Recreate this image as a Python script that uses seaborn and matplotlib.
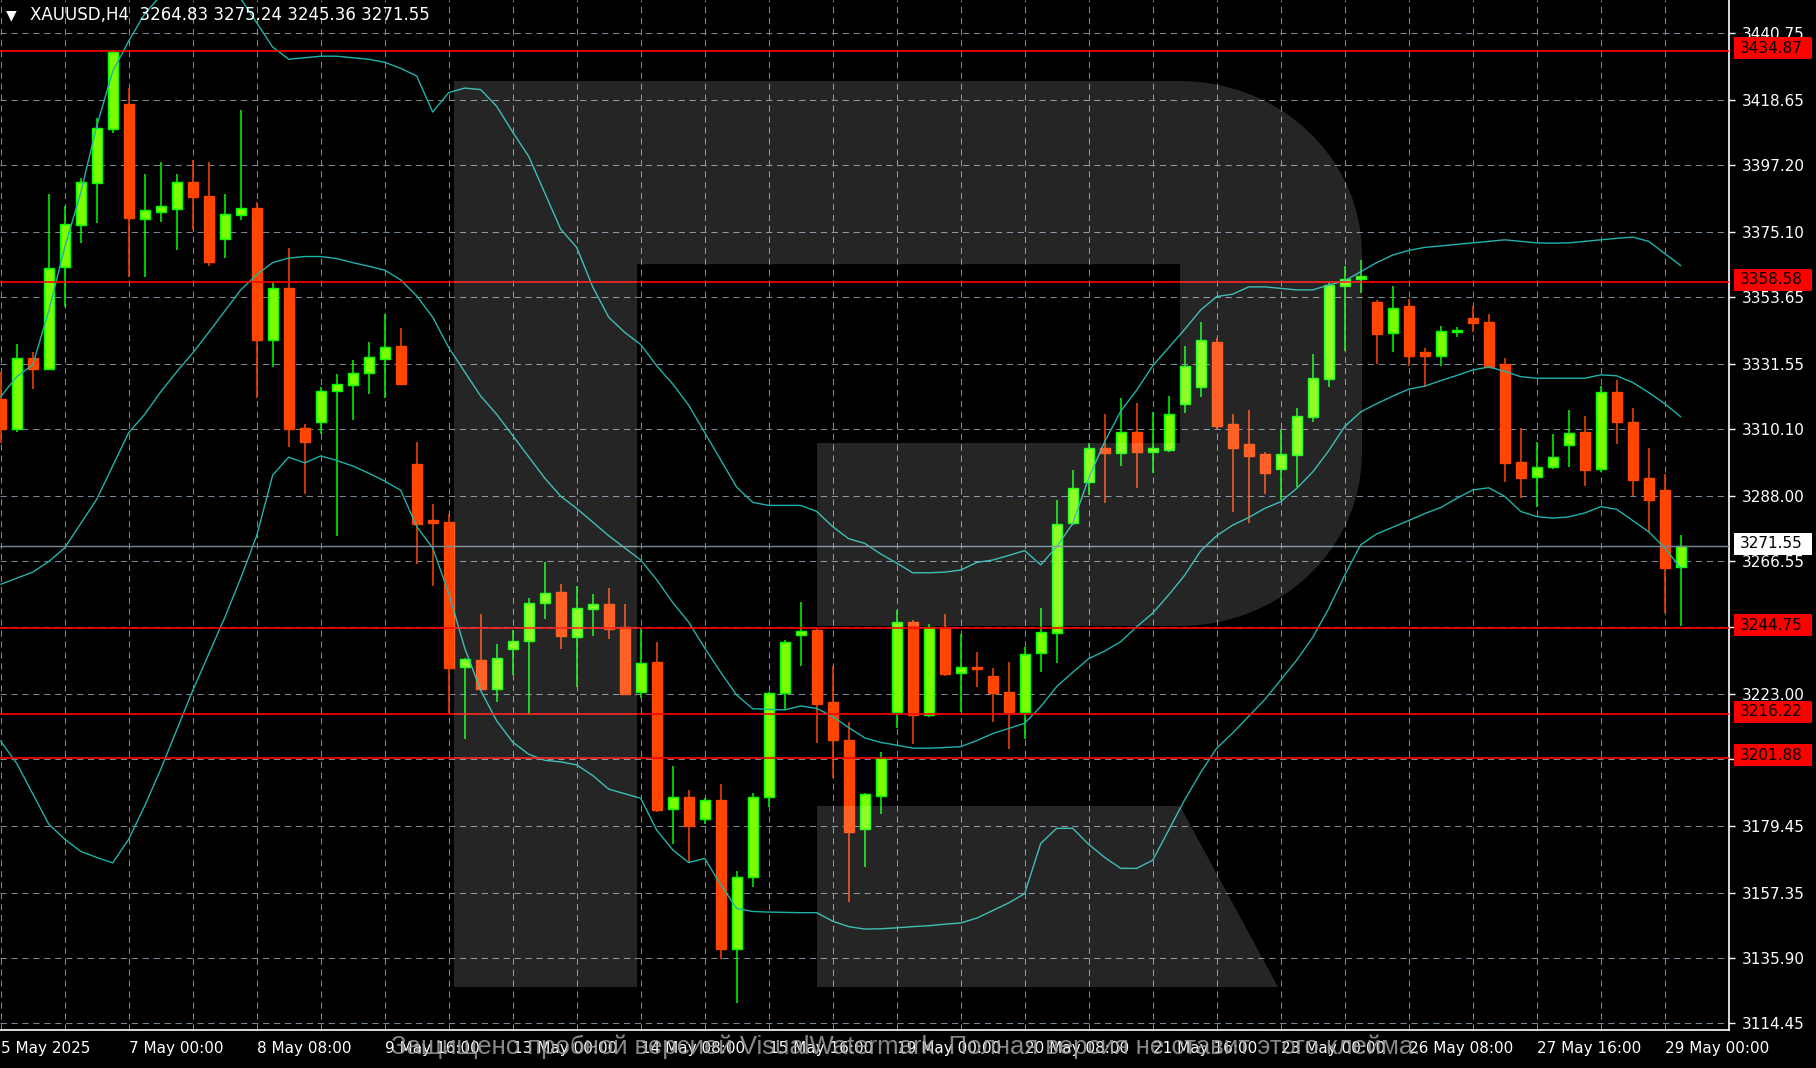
import numpy as np
import pandas as pd
import matplotlib
matplotlib.use("Agg")
import matplotlib.pyplot as plt
import matplotlib.transforms as mtrans
from matplotlib.patches import Polygon, Rectangle
from matplotlib import font_manager
import seaborn as sns

# XAUUSD H4, 5 May 16:00 .. 29 May 04:00
header = "XAUUSD,H4  3264.83 3275.24 3245.36 3271.55"
time_labels = ["5 May 2025", "7 May 00:00", "8 May 08:00", "9 May 16:00", "13 May 00:00",
               "14 May 08:00", "15 May 16:00", "19 May 00:00", "20 May 08:00", "21 May 16:00",
               "23 May 00:00", "26 May 08:00", "27 May 16:00", "29 May 00:00"]

opens = [3319.95, 3310.07, 3333.46, 3329.83, 3363.44, 3377.39, 3391.12, 3408.91, 3417.26, 3379.26,
         3381.78, 3382.55, 3391.45, 3386.95, 3372.67, 3380.57, 3382.88, 3339.50, 3356.52, 3310.39,
         3312.59, 3322.69, 3324.56, 3328.51, 3333.13, 3337.52, 3298.64, 3280.19, 3279.42, 3231.64,
         3234.06, 3224.39, 3237.58, 3240.32, 3252.73, 3256.35, 3241.53, 3250.75, 3252.40, 3244.82,
         3223.62, 3233.29, 3184.85, 3189.02, 3181.56, 3187.93, 3138.72, 3162.45, 3188.80, 3223.07,
         3242.19, 3243.94, 3220.11, 3207.70, 3178.26, 3189.35, 3217.03, 3246.69, 3215.93, 3244.82,
         3229.66, 3231.86, 3228.78, 3223.40, 3217.03, 3236.25, 3242.84, 3279.09, 3292.82, 3303.80,
         3302.15, 3309.07, 3302.70, 3303.25, 3318.50, 3323.90, 3338.95, 3311.82, 3305.23, 3301.93,
         3296.88, 3301.60, 3314.02, 3326.53, 3357.40, 3359.50, 3352.13, 3341.69, 3350.70, 3335.43,
         3334.33, 3342.24, 3346.64, 3345.32, 3331.48, 3299.19, 3294.25, 3297.54, 3304.90, 3309.07,
         3296.88, 3322.25, 3312.37, 3293.92, 3290.07, 3264.83]
highs = [3329.06, 3338.18, 3335.65, 3387.60, 3383.76, 3392.88, 3412.54, 3435.00, 3422.42, 3394.19,
         3398.04, 3394.19, 3398.81, 3398.04, 3387.60, 3415.28, 3384.86, 3358.50, 3369.70, 3311.71,
         3324.12, 3328.19, 3332.91, 3338.84, 3348.06, 3343.34, 3305.78, 3285.46, 3282.05, 3234.60,
         3249.22, 3239.33, 3243.94, 3254.38, 3266.24, 3259.10, 3258.44, 3255.81, 3257.67, 3252.51,
         3244.82, 3239.99, 3199.13, 3191.22, 3188.48, 3193.09, 3164.64, 3190.34, 3223.62, 3240.65,
         3253.17, 3244.49, 3232.08, 3213.52, 3190.34, 3203.74, 3250.53, 3247.24, 3245.81, 3249.21,
         3242.62, 3236.58, 3231.31, 3233.29, 3238.45, 3251.08, 3286.78, 3296.66, 3305.45, 3315.11,
         3320.50, 3318.85, 3315.88, 3321.00, 3337.50, 3345.54, 3340.04, 3315.11, 3316.43, 3302.48,
         3309.84, 3316.98, 3334.88, 3358.70, 3364.00, 3366.00, 3352.68, 3357.29, 3352.90, 3336.75,
         3344.11, 3343.89, 3350.70, 3348.06, 3333.46, 3310.39, 3305.78, 3308.52, 3316.43, 3314.46,
         3324.34, 3326.32, 3316.98, 3303.80, 3295.34, 3275.24]
lows = [3305.45, 3309.30, 3323.24, 3329.50, 3350.26, 3371.35, 3377.94, 3407.59, 3360.37, 3360.15,
        3378.49, 3369.15, 3375.74, 3363.99, 3366.63, 3379.04, 3320.28, 3330.49, 3304.13, 3288.75,
        3308.52, 3274.92, 3313.14, 3321.70, 3320.27, 3324.60, 3265.69, 3258.44, 3216.70, 3207.92,
        3224.00, 3220.33, 3229.12, 3215.93, 3247.46, 3237.58, 3225.27, 3241.97, 3240.86, 3222.52,
        3221.42, 3184.08, 3173.43, 3167.39, 3180.02, 3135.43, 3120.93, 3159.15, 3185.51, 3217.58,
        3232.19, 3206.60, 3195.07, 3154.43, 3165.74, 3183.32, 3211.54, 3206.38, 3215.16, 3228.78,
        3217.03, 3225.05, 3213.74, 3204.62, 3207.92, 3230.21, 3232.96, 3278.54, 3288.42, 3285.68,
        3298.09, 3290.84, 3295.56, 3302.70, 3315.30, 3320.60, 3310.06, 3282.93, 3279.09, 3288.75,
        3286.78, 3291.17, 3312.59, 3323.90, 3335.98, 3355.00, 3331.59, 3335.65, 3330.93, 3324.12,
        3330.93, 3340.38, 3342.24, 3330.49, 3292.82, 3287.55, 3284.36, 3296.88, 3297.54, 3291.39,
        3296.11, 3305.23, 3288.09, 3276.34, 3249.65, 3245.36]
closes = [3310.07, 3333.46, 3329.83, 3363.11, 3377.61, 3391.45, 3409.24, 3434.40, 3379.81, 3382.22,
          3383.65, 3391.45, 3386.51, 3365.31, 3380.90, 3382.88, 3339.50, 3356.52, 3310.07, 3306.00,
          3322.80, 3324.89, 3328.73, 3334.00, 3337.30, 3324.99, 3278.87, 3279.09, 3231.53, 3234.39,
          3224.39, 3234.61, 3240.43, 3252.95, 3256.24, 3242.07, 3251.08, 3252.40, 3244.16, 3222.85,
          3233.18, 3184.63, 3189.02, 3179.47, 3187.93, 3138.72, 3162.67, 3189.02, 3223.29, 3239.88,
          3243.72, 3219.56, 3207.70, 3177.49, 3189.90, 3201.66, 3246.47, 3215.93, 3245.04, 3229.44,
          3231.86, 3230.98, 3223.07, 3217.03, 3235.93, 3243.17, 3278.76, 3290.62, 3303.80, 3302.15,
          3309.07, 3302.70, 3303.80, 3315.00, 3331.00, 3339.50, 3311.27, 3304.02, 3301.38, 3295.56,
          3301.82, 3314.46, 3326.86, 3357.62, 3359.50, 3360.50, 3341.47, 3349.93, 3334.21, 3334.21,
          3342.57, 3342.46, 3344.99, 3330.71, 3298.86, 3294.14, 3297.76, 3301.05, 3308.96, 3296.66,
          3322.25, 3312.59, 3293.37, 3286.78, 3264.48, 3271.55]

# Bollinger bands (20, 2), one reading per bar
bb_upper = [3320.8, 3327.4, 3331.3, 3349.0, 3370.0, 3388.0, 3410.0, 3428.0, 3438.0, 3447.0,
            3453.0, 3460.0, 3464.0, 3464.0, 3460.0, 3452.0, 3444.0, 3436.0, 3432.0, 3432.5,
            3433.0, 3433.0, 3432.5, 3432.0, 3431.0, 3429.0, 3426.5, 3414.6, 3421.0, 3422.5,
            3422.0, 3416.5, 3408.0, 3400.0, 3388.0, 3376.0, 3370.0, 3357.0, 3347.0, 3342.0,
            3338.0, 3331.0, 3325.0, 3318.0, 3309.0, 3300.0, 3291.0, 3286.0, 3285.0, 3285.0,
            3285.0, 3283.0, 3278.0, 3274.0, 3272.5, 3269.0, 3266.0, 3262.8, 3262.8, 3263.0,
            3263.7, 3266.2, 3267.0, 3268.5, 3270.1, 3265.4, 3271.4, 3279.0, 3294.0, 3306.0,
            3316.0, 3323.0, 3331.0, 3337.0, 3343.0, 3349.4, 3353.8, 3354.6, 3357.0, 3357.0,
            3356.5, 3356.0, 3356.0, 3357.6, 3359.0, 3362.0, 3365.0, 3367.5, 3369.0, 3370.0,
            3370.5, 3371.0, 3371.5, 3372.0, 3372.5, 3372.0, 3371.5, 3371.4, 3371.5, 3372.0,
            3372.5, 3373.0, 3373.4, 3372.0, 3368.0, 3364.0]
bb_middle = [3259.0, 3261.0, 3263.0, 3266.5, 3271.0, 3279.0, 3287.0, 3298.0, 3309.0, 3315.0,
             3322.4, 3329.0, 3335.2, 3342.0, 3349.0, 3356.0, 3361.0, 3365.0, 3366.5, 3367.0,
             3367.0, 3366.3, 3365.0, 3363.8, 3362.5, 3359.3, 3354.0, 3347.0, 3337.0, 3329.0,
             3321.0, 3315.0, 3308.0, 3301.0, 3294.0, 3288.0, 3284.0, 3279.5, 3275.0, 3271.0,
             3267.0, 3260.5, 3253.0, 3246.5, 3238.0, 3230.0, 3222.5, 3218.0, 3217.8, 3217.6,
             3218.9, 3218.1, 3215.4, 3211.8, 3208.4, 3206.9, 3206.0, 3205.0, 3205.0, 3205.2,
             3205.5, 3207.5, 3209.8, 3211.5, 3213.2, 3218.7, 3225.3, 3230.0, 3234.5, 3237.0,
             3240.1, 3245.0, 3249.5, 3255.5, 3262.0, 3270.0, 3275.0, 3278.5, 3281.0, 3284.0,
             3286.2, 3290.6, 3296.0, 3303.0, 3311.0, 3315.8, 3318.5, 3321.0, 3323.3, 3324.3,
             3326.1, 3327.8, 3329.6, 3330.6, 3329.2, 3327.4, 3326.9, 3326.9, 3326.9, 3326.9,
             3328.0, 3327.7, 3325.5, 3322.2, 3318.5, 3314.2]
bb_lower = [3207.3, 3200.0, 3190.0, 3180.0, 3175.0, 3171.0, 3169.0, 3167.2, 3175.0, 3186.0,
            3198.0, 3211.0, 3224.0, 3236.0, 3248.0, 3261.0, 3275.0, 3295.0, 3300.9, 3299.0,
            3301.3, 3299.8, 3298.0, 3295.6, 3293.0, 3290.0, 3278.0, 3271.0, 3256.0, 3238.0,
            3224.0, 3214.0, 3207.0, 3203.0, 3201.0, 3200.5, 3199.5, 3196.0, 3191.5, 3190.0,
            3188.5, 3178.0, 3171.5, 3167.3, 3168.7, 3160.0, 3152.2, 3151.2, 3151.0, 3150.9,
            3150.8, 3150.8, 3148.0, 3146.2, 3145.4, 3145.5, 3145.8, 3146.2, 3146.5, 3147.0,
            3147.4, 3149.0, 3151.5, 3154.0, 3157.1, 3173.6, 3178.6, 3178.6, 3173.3, 3169.0,
            3165.4, 3165.4, 3168.1, 3178.0, 3188.0, 3197.0, 3205.0, 3210.0, 3215.5, 3221.0,
            3227.5, 3234.0, 3241.5, 3251.0, 3262.0, 3272.0, 3275.6, 3277.8, 3280.0, 3282.3,
            3284.3, 3287.3, 3290.1, 3290.8, 3288.0, 3283.0, 3281.3, 3280.8, 3281.2, 3282.5,
            3284.6, 3283.7, 3280.0, 3276.3, 3271.0, 3264.3]

level_lines = [3434.87, 3358.58, 3244.75, 3216.22, 3201.88]
last_price = 3271.55
price_ticks = [3440.75, 3418.65, 3397.20, 3375.10, 3353.65, 3331.55, 3310.10, 3288.00,
               3266.55, 3244.80, 3223.00, 3201.40, 3179.45, 3157.35, 3135.90, 3114.45]
hidden_ticks = [3244.80, 3201.40]
watermark_msg = "Защищено пробной версией VisualWatermark. Полная версия не ставит этого клейма."

W, H = 1816, 1068
AX_R, AX_B = 1729, 1030          # plot area right / bottom edge, pixels
Y_TOP, Y_BOT = 3451.525, 3112.14
PX = (Y_TOP - Y_BOT) / AX_B       # price per pixel
GRID = "#778899"

sns.set_style("dark")
plt.rcParams["font.family"] = ["DejaVu Sans"]

fig = plt.figure(figsize=(W / 100, H / 100), dpi=100, facecolor="black")
ax = fig.add_axes([0, (H - AX_B) / H, AX_R / W, AX_B / H])
ax.set_facecolor("black")

o, h, l, c = map(np.array, (opens, highs, lows, closes))
bars = np.arange(len(o))
bull = c >= o

# wicks and bodies
ax.vlines(bars, l, h, colors=np.where(bull, "#00FF00", "#FF4500"), lw=1.1, zorder=3)
ax.bar(bars, np.maximum(np.abs(c - o), 0.45), bottom=np.minimum(o, c), width=0.62,
       color=np.where(bull, "#7CFC00", "#FF4500"), edgecolor=np.where(bull, "#00FF00", "#FF4500"),
       linewidth=1.0, zorder=4)

bands = pd.DataFrame({
    "bar": np.concatenate([bars, bars, bars]),
    "price": bb_upper + bb_middle + bb_lower,
    "band": ["upper"] * len(bars) + ["middle"] * len(bars) + ["lower"] * len(bars),
})
sns.lineplot(data=bands, x="bar", y="price", hue="band", estimator=None, sort=False,
             palette={"upper": "#20B2AA", "middle": "#20B2AA", "lower": "#20B2AA"},
             lw=1.0, legend=False, ax=ax, zorder=5)

for v in level_lines:
    ax.axhline(v, color="#FF0000", lw=1.2, zorder=6)
ax.axhline(last_price, color=GRID, lw=1.0, zorder=6)

ax.set_xlim(-0.044, (AX_R - 0.7) / 16)
ax.set_ylim(Y_BOT, Y_TOP)
ax.set_xlabel("")
ax.set_ylabel("")

# grid & axes, MT4 style
ax.set_xticks(range(0, len(bars), 8))
ax.set_xticklabels(time_labels)
ax.set_xticks(range(0, 109, 4), minor=True)
ax.yaxis.tick_right()
ax.set_yticks(price_ticks)
ax.set_yticklabels(["" if t in hidden_ticks else f"{t:.2f}" for t in price_ticks])
ax.set_axisbelow(True)
ax.grid(True, which="both", axis="x", color=GRID, lw=0.75, linestyle=(0, (6, 4.5)))
ax.grid(True, which="major", axis="y", color=GRID, lw=0.75, linestyle=(0, (6, 4.5)))
ax.tick_params(axis="x", which="minor", length=0)
ax.tick_params(axis="x", which="major", colors="white", length=5, width=1, pad=3, labelsize=11)
ax.tick_params(axis="y", which="major", colors="white", length=4, width=1, pad=5, labelsize=11,
               right=True, left=False, labelright=True, labelleft=False)
for lab in ax.get_xticklabels():
    lab.set_ha("left")
for s in ["top", "left"]:
    ax.spines[s].set_visible(False)
for s in ["bottom", "right"]:
    ax.spines[s].set_color("white")
    ax.spines[s].set_linewidth(1.2)

# price labels on the right axis
trans = mtrans.blended_transform_factory(ax.transAxes, ax.transData)


def price_box(v, face):
    mid = v + 2.5 * PX
    ax.add_patch(Rectangle((1734 / AX_R, mid - 11 * PX), 78 / AX_R, 22 * PX, transform=trans,
                           facecolor=face, edgecolor="none", clip_on=False, zorder=20))
    ax.text(1740 / AX_R, mid, f"{v:.2f}", transform=trans, color="black", fontsize=11,
            ha="left", va="center", clip_on=False, zorder=21)


for v in level_lines:
    price_box(v, "#FF0000")
price_box(last_price, "white")

# header
fig.text(6 / W, 1 - 15 / H, "▼", color="white", fontsize=10, ha="left", va="center")
fig.text(30 / W, 1 - 15 / H, header, color="white", fontsize=12, ha="left", va="center")

# watermark "R" logo (pixel outline -> axes fraction)
def to_ax(pts):
    return [(x / AX_R, 1 - y / AX_B) for x, y in pts]


t = np.linspace(np.pi / 2, 0, 20)
top_arc = list(zip(1180 + 182 * np.cos(t), 254 - 173 * np.sin(t)))
bot_arc = list(zip(1180 + 182 * np.cos(t[::-1]), 453 + 173 * np.sin(t[::-1])))
outline = ([(454, 987), (454, 81), (1180, 81)] + top_arc + [(1362, 254), (1362, 453)] + bot_arc +
           [(1180, 626), (817, 626), (817, 443), (1180, 443), (1180, 264), (637, 264), (637, 987)])
leg = [(817, 806), (1180, 806), (1278, 987), (817, 987)]
for shape in (outline, leg):
    ax.add_patch(Polygon(to_ax(shape), closed=True, transform=ax.transAxes, facecolor="white",
                         edgecolor="none", alpha=0.15, zorder=30))

names = {f.name for f in font_manager.fontManager.ttflist}
wm_font = "Liberation Sans Narrow" if "Liberation Sans Narrow" in names else "Liberation Sans"
wm = fig.text(906 / W, (H - 1047) / H, watermark_msg, color="#a0a0a0", alpha=0.85,
              fontsize=16, family=[wm_font, "DejaVu Sans"], ha="center", va="center", zorder=40)
fig.canvas.draw()
bb = wm.get_window_extent()
wm.set_fontsize(16 * 1031 / bb.width)

fig.savefig("out.png", dpi=100, facecolor="black")
